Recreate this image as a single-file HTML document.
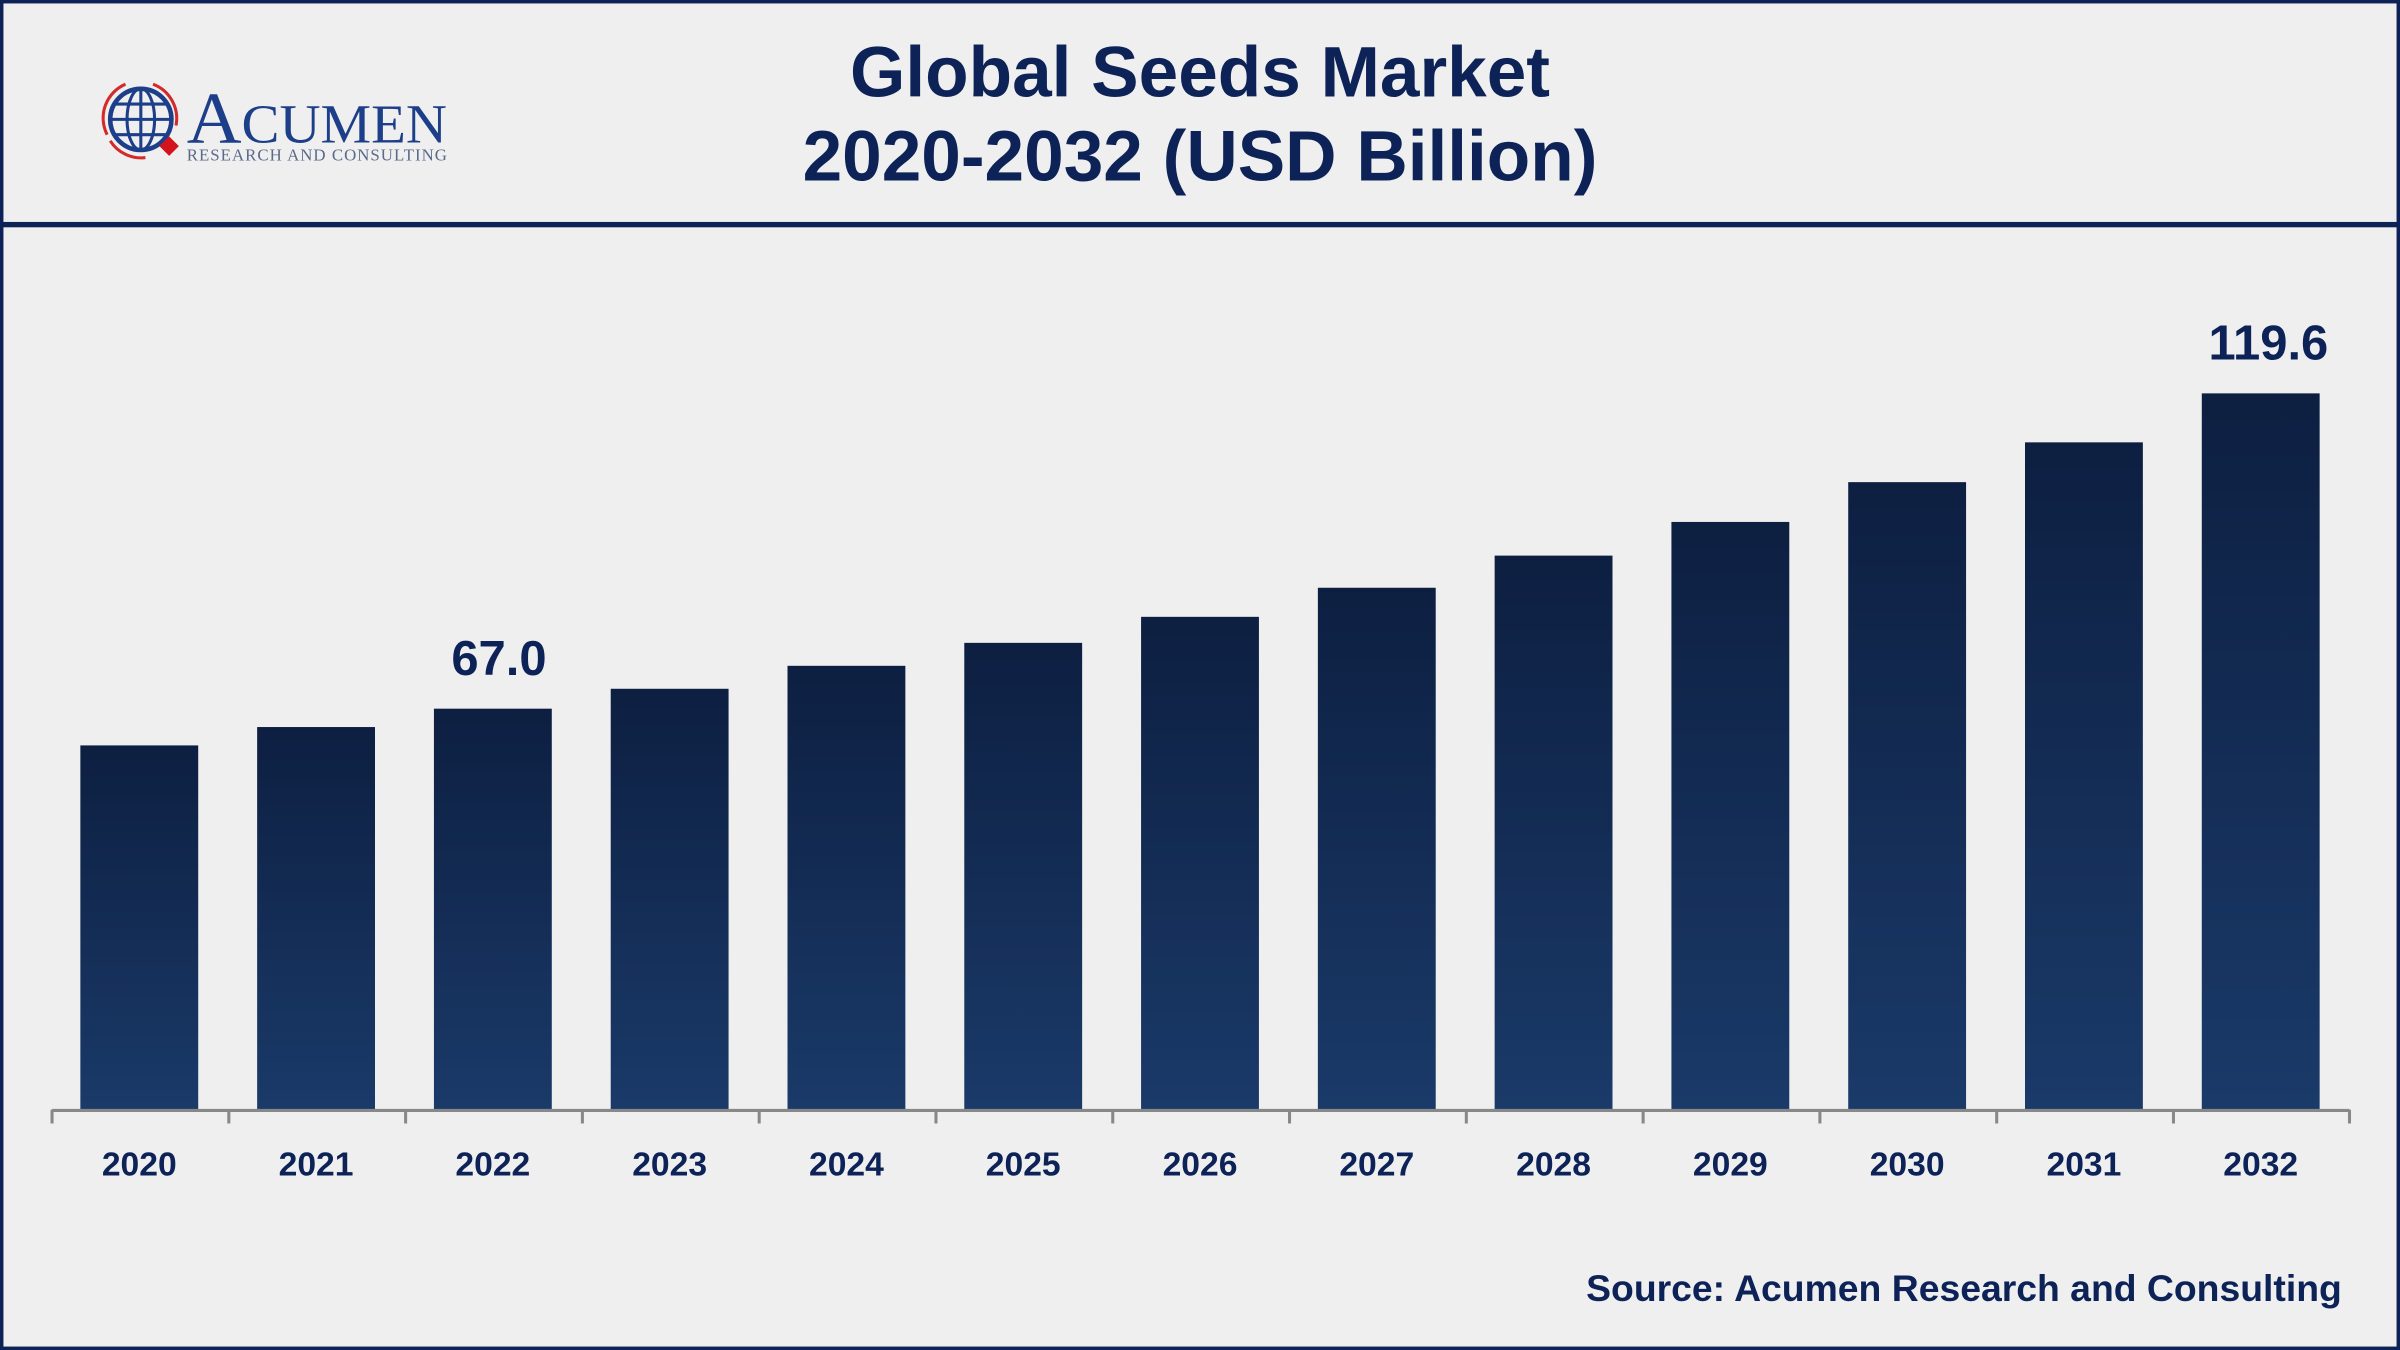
<!DOCTYPE html>
<html><head><meta charset="utf-8"><style>
html,body{margin:0;padding:0;background:#efefef;}
svg{display:block;}
</style></head><body>
<svg width="2400" height="1350" viewBox="0 0 1568 882" xmlns="http://www.w3.org/2000/svg" font-family="Liberation Sans, sans-serif">
<defs>
<linearGradient id="g" x1="0" y1="0" x2="0" y2="1">
<stop offset="0" stop-color="#0d1f41"/>
<stop offset="1" stop-color="#1a3a69"/>
</linearGradient>
</defs>
<rect x="0" y="0" width="1568" height="882" fill="#efefef"/>
<rect x="1" y="1" width="1566" height="880" fill="none" stroke="#0d2358" stroke-width="2.5"/>
<rect x="0" y="145" width="1568" height="3.5" fill="#0d2358"/>
<!-- logo -->
<g>
<circle cx="92" cy="78" r="20" fill="none" stroke="#1d3f8a" stroke-width="3"/>
<ellipse cx="92" cy="78" rx="9" ry="20" fill="none" stroke="#1d3f8a" stroke-width="2"/>
<line x1="72" y1="78" x2="112" y2="78" stroke="#1d3f8a" stroke-width="2"/>
<line x1="75" y1="68" x2="109" y2="68" stroke="#1d3f8a" stroke-width="2"/>
<line x1="75" y1="88" x2="109" y2="88" stroke="#1d3f8a" stroke-width="2"/>
<line x1="92" y1="58" x2="92" y2="98" stroke="#1d3f8a" stroke-width="2"/>
<path d="M70 88 A24 24 0 0 1 82 55" fill="none" stroke="#d42a2a" stroke-width="2"/>
<path d="M100 55 A24 24 0 0 1 115 82" fill="none" stroke="#d42a2a" stroke-width="2"/>
<path d="M72 92 A24 24 0 0 0 95 103" fill="none" stroke="#d42a2a" stroke-width="2"/>
<rect x="106" y="91" width="9" height="9" fill="#d4141c" transform="rotate(45 110.5 95.5)"/>
<text x="122" y="93" font-family="Liberation Serif, serif" font-size="48" fill="#1d3f8a" textLength="170" lengthAdjust="spacingAndGlyphs">A<tspan font-size="36">CUMEN</tspan></text>
<text x="122" y="105" font-family="Liberation Serif, serif" font-size="11" fill="#5a6a8a" textLength="170">RESEARCH AND CONSULTING</text>
</g>
<text x="784" y="63" text-anchor="middle" font-size="46.5" font-weight="bold" fill="#0d2358">Global Seeds Market</text>
<text x="784" y="118" text-anchor="middle" font-size="46.5" font-weight="bold" fill="#0d2358">2020-2032 (USD Billion)</text>
<!-- bars -->
<g fill="url(#g)">
<rect x="52.5" y="487" width="77" height="238"/>
<rect x="168" y="475" width="77" height="250"/>
<rect x="283.5" y="463" width="77" height="262"/>
<rect x="399" y="450" width="77" height="275"/>
<rect x="514.5" y="435" width="77" height="290"/>
<rect x="630" y="420" width="77" height="305"/>
<rect x="745.5" y="403" width="77" height="322"/>
<rect x="861" y="384" width="77" height="341"/>
<rect x="976.5" y="363" width="77" height="362"/>
<rect x="1092" y="341" width="77" height="384"/>
<rect x="1207.5" y="315" width="77" height="410"/>
<rect x="1323" y="289" width="77" height="436"/>
<rect x="1438.5" y="257" width="77" height="468"/>
</g>
<g stroke="#888" stroke-width="2">
<line x1="34" y1="725.5" x2="1535" y2="725.5"/>
<line x1="34" y1="725" x2="34" y2="734"/><line x1="149.5" y1="725" x2="149.5" y2="734"/>
<line x1="265" y1="725" x2="265" y2="734"/><line x1="380.5" y1="725" x2="380.5" y2="734"/>
<line x1="496" y1="725" x2="496" y2="734"/><line x1="611.5" y1="725" x2="611.5" y2="734"/>
<line x1="727" y1="725" x2="727" y2="734"/><line x1="842.5" y1="725" x2="842.5" y2="734"/>
<line x1="958" y1="725" x2="958" y2="734"/><line x1="1073.5" y1="725" x2="1073.5" y2="734"/>
<line x1="1189" y1="725" x2="1189" y2="734"/><line x1="1304.5" y1="725" x2="1304.5" y2="734"/>
<line x1="1420" y1="725" x2="1420" y2="734"/><line x1="1535" y1="725" x2="1535" y2="734"/>
</g>
<g font-size="22" font-weight="bold" fill="#0d2358" text-anchor="middle">
<text x="91" y="768">2020</text><text x="206.5" y="768">2021</text><text x="322" y="768">2022</text>
<text x="437.5" y="768">2023</text><text x="553" y="768">2024</text><text x="668.5" y="768">2025</text>
<text x="784" y="768">2026</text><text x="899.5" y="768">2027</text><text x="1015" y="768">2028</text>
<text x="1130.5" y="768">2029</text><text x="1246" y="768">2030</text><text x="1361.5" y="768">2031</text>
<text x="1477" y="768">2032</text>
</g>
<text x="326" y="441" text-anchor="middle" font-size="32" font-weight="bold" fill="#0d2358">67.0</text>
<text x="1482" y="235" text-anchor="middle" font-size="32" font-weight="bold" fill="#0d2358">119.6</text>
<text x="1530" y="850" text-anchor="end" font-size="24.4" font-weight="bold" fill="#0d2358">Source: Acumen Research and Consulting</text>
</svg>
</body></html>
